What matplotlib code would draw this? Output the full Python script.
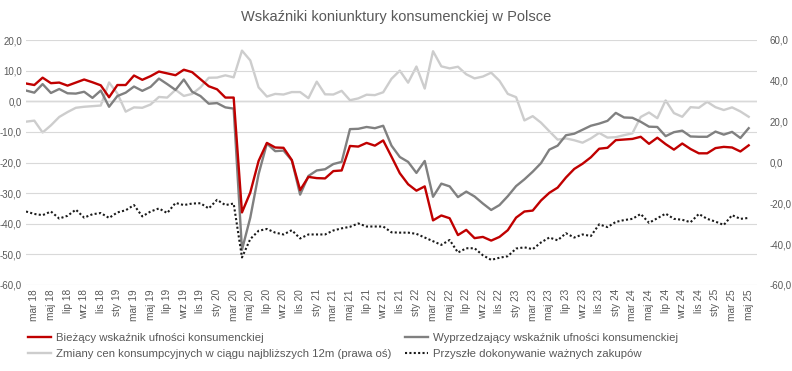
import matplotlib
matplotlib.use("Agg")
import matplotlib.pyplot as plt
from matplotlib.lines import Line2D
from matplotlib.ticker import FuncFormatter, MultipleLocator

plt.rcParams['font.family'] = ['Liberation Sans', 'DejaVu Sans']

# months from lut 18 to maj 25
month_names = ["sty", "lut", "mar", "kwi", "maj", "cze", "lip", "sie", "wrz", "paź", "lis", "gru"]
categories = []
for n in range(88):
    m = (1 + n) % 12
    y = 18 + (1 + n) // 12
    categories.append(month_names[m] + " " + str(y))

# Bieżący wskaźnik ufności konsumenckiej (left axis)
current_idx = [5.8, 5.3, 7.7, 5.9, 6.1, 5.1, 6.1, 7.1, 6.2, 5.2,
               1.3, 5.3, 5.3, 8.4, 7.0, 8.2, 9.7, 9.1, 8.5, 10.3,
               9.5, 7.2, 4.9, 3.9, 1.2, 1.2, -36.3, -29.8, -19.5, -13.6,
               -15.1, -15.2, -19.2, -29.0, -24.7, -25.1, -25.2, -22.8, -22.6, -14.6,
               -14.8, -13.6, -14.5, -12.8, -18.1, -23.5, -27.1, -29.2, -27.8, -38.9,
               -37.3, -38.2, -43.7, -42.0, -44.7, -44.3, -45.5, -44.3, -42.1, -38.0,
               -36.0, -35.7, -32.4, -29.9, -28.2, -24.9, -22.1, -20.4, -18.3, -15.5,
               -15.2, -12.7, -12.5, -12.3, -11.6, -13.9, -11.9, -14.0, -15.8, -13.8,
               -15.6, -17.0, -17.0, -15.3, -14.9, -15.1, -16.4, -14.4]

# Wyprzedzający wskaźnik ufności konsumenckiej (left axis)
leading_idx = [3.5, 2.8, 5.6, 2.7, 4.0, 2.6, 2.5, 3.1, 1.1, 3.5,
               -1.8, 1.7, 2.8, 4.8, 3.4, 4.7, 7.4, 5.6, 3.7, 7.1,
               3.1, 1.7, -0.8, -0.6, -2.0, -2.4, -48.5, -38.0, -23.8, -13.8,
               -16.3, -16.1, -19.3, -30.5, -24.4, -22.6, -22.2, -20.5, -19.8, -9.1,
               -9.0, -8.4, -8.8, -8.0, -14.5, -18.2, -19.8, -23.4, -19.5, -31.2,
               -26.9, -27.8, -31.3, -29.5, -31.1, -33.4, -35.5, -33.9, -31.0, -27.7,
               -25.5, -23.0, -20.2, -15.8, -14.5, -11.1, -10.6, -9.3, -8.0, -7.3,
               -6.4, -3.8, -5.3, -5.4, -6.7, -8.3, -8.4, -11.4, -10.1, -9.6,
               -11.5, -11.6, -11.6, -9.9, -10.9, -10.0, -12.0, -8.8]

# Zmiany cen konsumpcyjnych w ciągu najbliższych 12m (right axis)
prices_12m = [20.0, 20.5, 14.7, 18.2, 22.3, 24.7, 26.8, 27.3, 27.6, 27.9,
              39.2, 33.8, 24.9, 27.0, 26.8, 28.4, 32.1, 31.8, 35.6, 32.6,
              33.6, 36.8, 41.5, 41.6, 42.7, 41.7, 54.8, 50.0, 36.8, 32.3,
              33.6, 33.3, 34.5, 34.5, 31.5, 39.6, 33.4, 33.3, 35.1, 30.5,
              31.4, 33.2, 33.0, 34.4, 41.0, 45.0, 39.1, 47.0, 36.2, 54.5,
              47.1, 46.1, 46.9, 43.2, 41.2, 42.1, 44.0, 40.0, 33.6, 32.0,
              20.6, 22.7, 19.5, 15.3, 11.2, 11.8, 10.9, 9.7, 11.8, 14.5,
              12.2, 12.4, 13.4, 14.3, 22.3, 24.5, 21.7, 30.4, 24.2, 22.4,
              27.1, 26.8, 29.7, 27.1, 25.7, 27.0, 25.0, 22.4]

# Przyszłe dokonywanie ważnych zakupów (left axis)
big_purchases = [-36.0, -36.8, -37.2, -36.0, -38.3, -37.4, -35.4, -38.0, -36.9, -36.5,
                 -38.1, -36.3, -35.6, -33.9, -37.6, -36.0, -35.0, -36.5, -33.2, -33.9,
                 -33.4, -33.3, -35.0, -32.2, -33.9, -33.4, -51.0, -45.0, -42.3, -41.7,
                 -42.9, -43.5, -42.1, -44.8, -43.5, -43.5, -43.5, -42.2, -41.5, -41.0,
                 -39.9, -40.9, -40.9, -40.9, -42.8, -42.9, -42.9, -43.3, -44.5, -45.7,
                 -46.9, -45.3, -49.4, -48.0, -48.0, -50.3, -51.8, -51.1, -50.6, -48.1,
                 -47.7, -48.3, -46.1, -44.5, -45.4, -43.1, -44.5, -43.5, -44.0, -40.2,
                 -41.1, -39.4, -38.8, -38.4, -36.8, -39.7, -38.2, -36.7, -38.4, -38.7,
                 -39.5, -36.8, -38.4, -39.3, -40.4, -37.2, -38.4, -38.1]

labels = ["Bieżący wskaźnik ufności konsumenckiej",
          "Wyprzedzający wskaźnik ufności konsumenckiej",
          "Zmiany cen konsumpcyjnych w ciągu najbliższych 12m (prawa oś)",
          "Przyszłe dokonywanie ważnych zakupów"]

text_col = "#595959"
red = "#C00000"
dark_grey = "#808080"
light_grey = "#CDCDCD"
dots = "#1A1A1A"

def comma(v, pos):
    return f"{v:.1f}".replace(".", ",")

fig = plt.figure(figsize=(7.92, 3.71), dpi=100)
ax = fig.add_axes([26 / 792, 1 - 285 / 371, 731 / 792, 245 / 371])
ax2 = ax.twinx()
ax.set_zorder(ax2.get_zorder() + 1)
ax.patch.set_visible(False)

x = list(range(len(categories)))

ax2.plot(x, prices_12m, color=light_grey, lw=1.7, solid_joinstyle="round")
ax.plot(x, leading_idx, color=dark_grey, lw=1.7, solid_joinstyle="round")
ax.plot(x, current_idx, color=red, lw=1.7, solid_joinstyle="round")
ax.plot(x, big_purchases, color=dots, lw=1.5, linestyle=(0, (1, 1.1)))

ax.set_xlim(0, 88)
ax.set_ylim(-60, 20)
ax2.set_ylim(-60, 60)
ax.yaxis.set_major_locator(MultipleLocator(10))
ax2.yaxis.set_major_locator(MultipleLocator(20))
ax.yaxis.set_major_formatter(FuncFormatter(comma))
ax2.yaxis.set_major_formatter(FuncFormatter(comma))

ax.grid(axis="y", color="#D9D9D9", lw=0.8)
ax.axhline(0, color="#BFBFBF", lw=1.0, zorder=0.5)

tick_pos = x[1::2]
ax.set_xticks(tick_pos)
ax.set_xticklabels([categories[i] for i in tick_pos], rotation=90)

for a in (ax, ax2):
    for s in a.spines.values():
        s.set_visible(False)
ax.tick_params(axis="x", length=0, pad=3, labelsize=7.3, labelcolor=text_col)
ax.tick_params(axis="y", length=0, pad=3, labelsize=7, labelcolor=text_col)
ax2.tick_params(axis="y", length=0, pad=9, labelsize=7, labelcolor=text_col)

fig.text(0.5, 1 - 17 / 371, "Wskaźniki koniunktury konsumenckiej w Polsce",
         ha="center", va="center", fontsize=10.5, color=text_col)

handles = [Line2D([], [], color=red, lw=1.7),
           Line2D([], [], color=light_grey, lw=1.7),
           Line2D([], [], color=dark_grey, lw=1.7),
           Line2D([], [], color=dots, lw=1.5, linestyle=(0, (1, 1.1)))]
leg_labels = [labels[0], labels[2], labels[1], labels[3]]
fig.legend(handles, leg_labels, ncol=2, loc="upper left",
           bbox_to_anchor=(28 / 792, 1 - 333 / 371), frameon=False,
           fontsize=8.2, borderpad=0, borderaxespad=0, handlelength=2.0,
           handletextpad=0.5, columnspacing=1.15, labelspacing=0.55,
           labelcolor=text_col)

fig.savefig("out.png", dpi=100)
